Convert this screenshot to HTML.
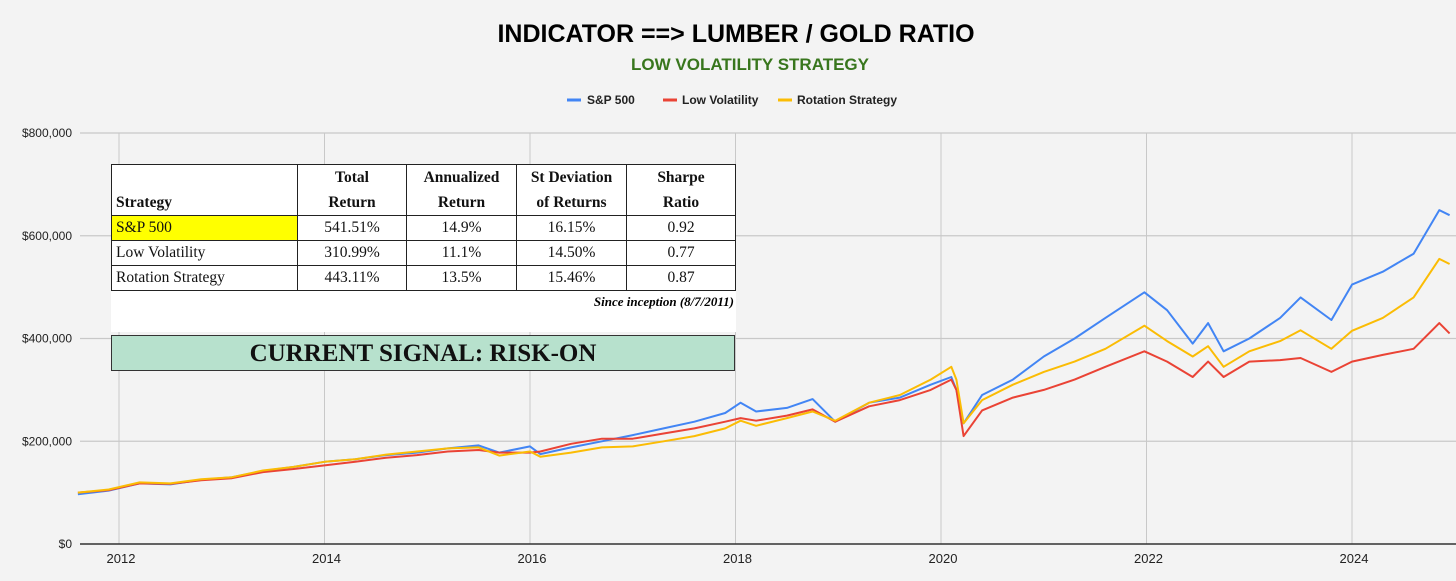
<!DOCTYPE html>
<html><head><meta charset="utf-8">
<style>
body{margin:0;background:#f3f3f3;}
#wrap{position:relative;width:1456px;height:581px;background:#f3f3f3;overflow:hidden;font-family:"Liberation Sans",Arial,sans-serif;}
svg{position:absolute;left:0;top:0;}
#tbl{position:absolute;left:111px;top:164px;width:625px;background:#fff;}
table{border-collapse:collapse;width:625px;font-family:"Liberation Serif",serif;font-size:15.5px;color:#111;}
td{border:1.5px solid #222;text-align:center;padding:0;}
td.l{text-align:left;padding-left:4px;}
tr.h td{height:49px;line-height:25px;vertical-align:bottom;font-weight:bold;background:#fff;}
tr.r td{height:24px;}
#since{font-family:"Liberation Serif",serif;font-style:italic;font-weight:bold;font-size:13px;text-align:right;padding:3px 2px 0 0;height:41px;box-sizing:border-box;}
#sig{position:absolute;left:111px;top:335px;width:622px;height:34px;background:#b7e1cd;border:1.5px solid #333;font-family:"Liberation Serif",serif;font-weight:bold;font-size:25px;text-align:center;line-height:35px;color:#111;}
</style></head><body>
<div id="wrap">
<svg id="chart" width="1456" height="581">
<text x="736" y="42" text-anchor="middle" font-size="25" font-weight="bold" fill="#000">INDICATOR ==&gt; LUMBER / GOLD RATIO</text>
<text x="750" y="70" text-anchor="middle" font-size="17" font-weight="bold" fill="#38761d">LOW VOLATILITY STRATEGY</text>
<g font-size="12" font-weight="bold" fill="#222">
<g><line x1="567" y1="100" x2="581" y2="100" stroke="#4285f4" stroke-width="3"/><text x="587" y="104">S&amp;P 500</text></g>
<g><line x1="663" y1="100" x2="677" y2="100" stroke="#ea4335" stroke-width="3"/><text x="682" y="104">Low Volatility</text></g>
<g><line x1="778" y1="100" x2="792" y2="100" stroke="#fbbc04" stroke-width="3"/><text x="797" y="104">Rotation Strategy</text></g>
</g>
<g id="grid"></g>
<g id="series"></g>
</svg>
<div id="tbl">
<table>
<tr class="h"><td class="l" style="width:181px">Strategy</td><td style="width:108px">Total<br>Return</td><td style="width:109px">Annualized<br>Return</td><td style="width:109px">St Deviation<br>of Returns</td><td>Sharpe<br>Ratio</td></tr>
<tr class="r"><td class="l" style="background:#ffff00">S&amp;P 500</td><td>541.51%</td><td>14.9%</td><td>16.15%</td><td>0.92</td></tr>
<tr class="r"><td class="l">Low Volatility</td><td>310.99%</td><td>11.1%</td><td>14.50%</td><td>0.77</td></tr>
<tr class="r"><td class="l">Rotation Strategy</td><td>443.11%</td><td>13.5%</td><td>15.46%</td><td>0.87</td></tr>
</table>
<div id="since">Since inception (8/7/2011)</div>
</div>
<div id="sig">CURRENT SIGNAL: RISK-ON</div>
</div>
<script>
const dates=[2011.6,2011.9,2012.2,2012.5,2012.8,2013.1,2013.4,2013.7,2014.0,2014.3,2014.6,2014.9,2015.2,2015.5,2015.7,2016.0,2016.1,2016.4,2016.7,2017.0,2017.3,2017.6,2017.9,2018.05,2018.2,2018.5,2018.75,2018.97,2019.3,2019.6,2019.9,2020.1,2020.15,2020.22,2020.4,2020.7,2021.0,2021.3,2021.6,2021.98,2022.2,2022.45,2022.6,2022.75,2023.0,2023.3,2023.5,2023.8,2024.0,2024.3,2024.6,2024.85,2024.95];
const sp500=[97,104,118,116,125,130,142,150,160,165,173,178,186,192,178,190,175,188,200,212,225,238,255,275,258,265,282,238,275,285,310,325,300,235,290,320,365,400,440,490,455,390,430,375,400,440,480,436,505,530,565,650,640];
const lowVol=[100,105,118,117,124,128,140,146,153,160,168,173,180,183,178,178,180,195,205,205,215,225,238,245,240,250,262,238,268,280,300,320,300,210,260,285,300,320,345,375,355,325,355,325,355,358,362,335,355,368,380,430,410];
const rotation=[100,106,120,118,126,130,143,150,160,165,174,180,186,188,172,180,170,178,188,190,200,210,225,240,230,245,258,240,275,290,320,345,320,235,280,310,335,355,380,425,395,365,385,345,375,395,416,380,415,440,480,555,545];
const yTicks=[0,200,400,600,800];
const yTickLabels=["$0","$200,000","$400,000","$600,000","$800,000"];
const xTicks=[2012,2014,2016,2018,2020,2022,2024];
const NS="http://www.w3.org/2000/svg";
function xs(t){return 119+(t-2012)*102.75;}
function ys(v){return 544-v*0.51375;}
const grid=document.getElementById('grid');
function mk(tag,attrs,parent){const e=document.createElementNS(NS,tag);for(const k in attrs)e.setAttribute(k,attrs[k]);parent.appendChild(e);return e;}
yTicks.forEach((v,i)=>{
  if(v>0){const g=mk('line',{x1:80,x2:1456,y1:ys(v),y2:ys(v),stroke:'#c8c8c8','stroke-width':1.2},grid);
  
  }
  const t=mk('text',{x:72,y:ys(v)+4,'text-anchor':'end','font-size':12,fill:'#222'},grid);
  t.textContent=yTickLabels[i];
  
  
});
xTicks.forEach(yr=>{
  const g=mk('line',{x1:xs(yr),x2:xs(yr),y1:133,y2:544,stroke:'#c8c8c8','stroke-width':1},grid);
  
  
  const t=mk('text',{x:xs(yr)+2,y:563,'text-anchor':'middle','font-size':13,fill:'#222'},grid);
  t.textContent=String(yr);
  
  
});
const ax=mk('line',{x1:80,x2:1456,y1:544,y2:544,stroke:'#333','stroke-width':1.5},grid);


const ser=document.getElementById('series');
function draw(vals,color,name){
  const d=vals.map((v,i)=>(i?'L':'M')+xs(dates[i]).toFixed(1)+' '+ys(v).toFixed(1)).join(' ');
  const p=mk('path',{d:d,fill:'none',stroke:color,'stroke-width':2,'stroke-linejoin':'round'},ser);
  
  
}
draw(sp500,'#4285f4','sp500-line');
draw(lowVol,'#ea4335','low-volatility-line');
draw(rotation,'#fbbc04','rotation-strategy-line');
</script>
</body></html>
